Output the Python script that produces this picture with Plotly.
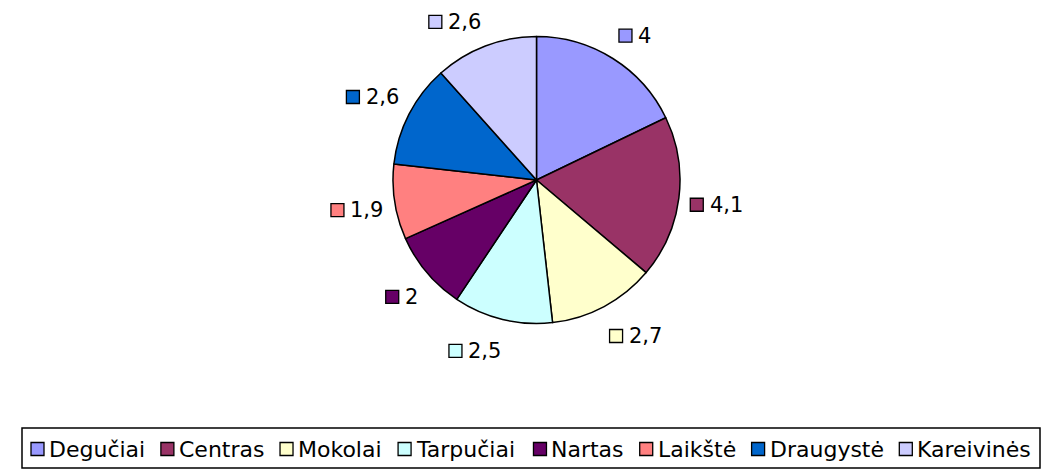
import math
import plotly.graph_objects as go

# ---- data ----
categories = ["Degučiai", "Centras", "Mokolai", "Tarpučiai", "Nartas", "Laikštė", "Draugystė", "Kareivinės"]
values = [4, 4.1, 2.7, 2.5, 2, 1.9, 2.6, 2.6]
colors = ["#9999FF", "#993366", "#FFFFCC", "#CCFFFF", "#660066", "#FF8080", "#0066CC", "#CCCCFF"]

# ---- layout constants ----
W, H = 1051, 473
CX, CY, R = 536.5, 180, 143.5
FONT = "DejaVu Sans"
LABEL_SIZE = 21
LEGEND_SIZE = 22

# approximate DejaVu Sans advance widths (em)
ADV = {c: 0.636 for c in "0123456789"}
ADV.update({",": 0.318, " ": 0.318,
            "a": .613, "c": .550, "č": .550, "e": .615, "ė": .615, "g": .635, "i": .278, "k": .579,
            "l": .278, "n": .634, "o": .612, "p": .635, "r": .411, "s": .521, "š": .521, "t": .392,
            "u": .634, "v": .592, "y": .592,
            "C": .698, "D": .770, "K": .656, "L": .557, "M": .863, "N": .748, "T": .611})


def text_width(s, size):
    return sum(ADV.get(ch, 0.6) for ch in s) * size


def fmt(v):
    return f"{v:g}".replace(".", ",")


def clamp(v):
    return max(-1.0, min(1.0, v))


fig = go.Figure()

fig.add_trace(go.Pie(
    labels=categories, values=values,
    marker=dict(colors=colors, line=dict(color="black", width=1.5)),
    sort=False, direction="clockwise", rotation=0,
    textinfo="none", hoverinfo="skip", showlegend=False,
    domain=dict(x=[(CX - R) / W, (CX + R) / W], y=[1 - (CY + R) / H, 1 - (CY - R) / H]),
))

# ---- data labels (marker square + value) placed outside each slice ----
total = sum(values)
RX, RY_UP, RY_DOWN = 155, 158, 165
mk_x, mk_y, ann = [], [], []
cum = 0.0
for cat, v, col in zip(categories, values, colors):
    theta = math.radians((cum + v / 2) / total * 360)
    cum += v
    s, c = math.sin(theta), math.cos(theta)
    ry = RY_UP if c > 0 else RY_DOWN
    px, py = CX + RX * s, CY - ry * c
    txt = fmt(v)
    w = 19 + text_width(txt, LABEL_SIZE)
    h = 21
    xc = px + w / 2 * clamp(4 * s)
    yc = py + h / 2 * clamp(-3 * c)
    left = xc - w / 2
    mk_x.append(left + 6.5)
    mk_y.append(yc)
    ann.append(dict(x=left + 17.5, y=yc, xref="x", yref="y", text=txt, showarrow=False,
                    xanchor="left", yanchor="middle",
                    font=dict(family=FONT, size=LABEL_SIZE, color="black")))

fig.add_trace(go.Scatter(
    x=mk_x, y=mk_y, mode="markers",
    marker=dict(symbol="square", size=13, color=colors, line=dict(color="black", width=1.3)),
    hoverinfo="skip", showlegend=False,
))

# ---- custom legend ----
LEG_X0, LEG_X1, LEG_Y0, LEG_Y1 = 22, 1040, 428, 468
start, end = 31, 1031
tws = [text_width(t, LEGEND_SIZE) for t in categories]
gap = (end - start - 17 * len(categories) - sum(tws)) / (len(categories) - 1)
lx, ly = [], []
x = start
yc = (LEG_Y0 + LEG_Y1) / 2 + 1
for cat, tw in zip(categories, tws):
    lx.append(x + 6.5)
    ly.append(yc)
    ann.append(dict(x=x + 16, y=yc, xref="x", yref="y", text=cat, showarrow=False,
                    xanchor="left", yanchor="middle",
                    font=dict(family=FONT, size=LEGEND_SIZE, color="black")))
    x += 17 + tw + gap

fig.add_trace(go.Scatter(
    x=lx, y=ly, mode="markers",
    marker=dict(symbol="square", size=13, color=colors, line=dict(color="black", width=1.3)),
    hoverinfo="skip", showlegend=False,
))

fig.add_shape(type="rect", xref="x", yref="y", x0=LEG_X0, x1=LEG_X1, y0=LEG_Y0, y1=LEG_Y1,
              line=dict(color="black", width=1.5), fillcolor="rgba(0,0,0,0)")

fig.update_layout(
    width=W, height=H, margin=dict(l=0, r=0, t=0, b=0),
    paper_bgcolor="white", plot_bgcolor="white",
    xaxis=dict(range=[0, W], visible=False, domain=[0, 1], fixedrange=True),
    yaxis=dict(range=[H, 0], visible=False, domain=[0, 1], fixedrange=True),
    annotations=ann, showlegend=False,
)

fig.write_html("out.html", config={"displayModeBar": False},
               post_script="document.body.style.margin='0px';document.body.style.padding='0px';")
